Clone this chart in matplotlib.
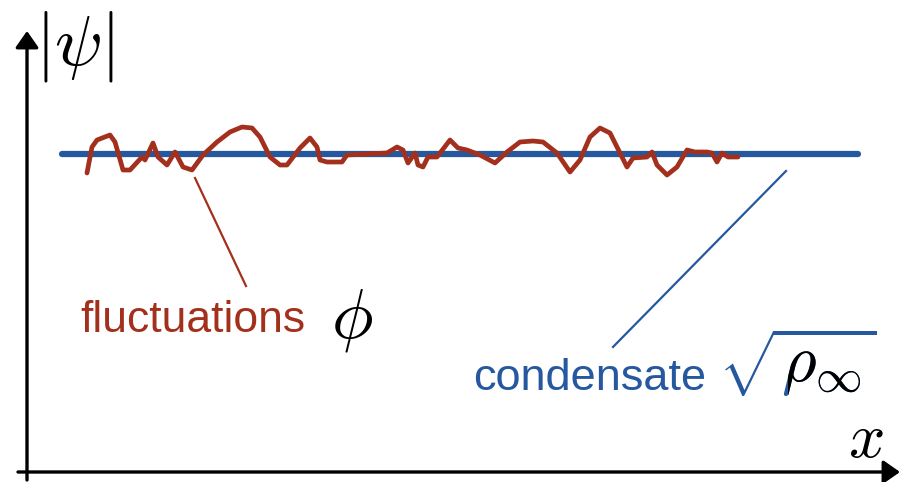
import numpy as np
import matplotlib.pyplot as plt
from matplotlib.transforms import Bbox

plt.rcParams['mathtext.fontset'] = 'cm'
plt.rcParams['font.family'] = ['Liberation Sans', 'DejaVu Sans']

# fluctuating field |psi|(x) (picture units, y grows downward)
fluct_x = [87, 92, 97, 110, 115, 123, 130, 142, 145, 153, 158, 167, 175, 183,
           192, 203, 217, 230, 242, 252, 260, 270, 280, 287, 300, 310, 317,
           320, 327, 342, 347, 387, 397, 403, 408, 415, 418, 423, 428, 437,
           450, 458, 467, 480, 495, 507, 520, 533, 543, 557, 570, 580, 590,
           600, 610, 620, 627, 633, 647, 652, 657, 667, 677, 687, 695, 707,
           712, 717, 722, 728, 738]
fluct_y = [173, 147, 140, 135, 142, 170, 170, 157, 160, 143, 157, 165, 152, 167,
           170, 155, 142, 132, 127, 128, 137, 157, 165, 165, 148, 138, 147,
           160, 162, 162, 155, 153, 147, 150, 163, 153, 165, 167, 157, 157,
           140, 148, 150, 155, 163, 152, 142, 141, 142, 153, 172, 160, 137,
           128, 133, 153, 167, 158, 157, 152, 165, 175, 167, 150, 152, 152,
           153, 162, 153, 157, 157]

# condensate level sqrt(rho_inf)
cond_x = [62, 858]
cond_y = [154, 154]

red = '#a3301c'
blue = '#25589e'

fig = plt.figure(figsize=(9, 4.82), dpi=100)
ax = fig.add_axes([0, 0, 1, 1])
ax.set_xlim(0, 900)
ax.set_ylim(482, 0)
ax.axis('off')

# axes with arrows
arrow = dict(arrowstyle='-|>,head_length=0.4,head_width=0.28', mutation_scale=25,
             color='black', lw=2.4, shrinkA=0, shrinkB=0)
ax.annotate('', xy=(27, 31), xytext=(27, 480), arrowprops=arrow)
ax.annotate('', xy=(900, 472), xytext=(18, 472), arrowprops=arrow)
ax.text(35, 46, r'$|\psi|$', fontsize=51, ha='left', va='center')
ax.text(866, 440, r'$x$', fontsize=46, ha='center', va='center')

# curves
ax.plot(cond_x, cond_y, color=blue, lw=4.5, solid_capstyle='round')
ax.plot(fluct_x, fluct_y, color=red, lw=3.4, solid_joinstyle='round',
        solid_capstyle='round')

# leader lines and labels
ax.plot([195, 246], [178, 286], color=red, lw=1.6)
ax.plot([786, 613], [171, 347], color=blue, lw=1.6)

ax.text(80, 320, 'fluctuations', fontsize=32, color=red, ha='left', va='center')
ax.text(331, 320, r'$\phi$', fontsize=50, color='black', ha='left', va='center')

ax.text(473, 378, 'condensate', fontsize=32.5, color=blue, ha='left', va='center')

# radical in blue, radicand in black: same text twice, black copy clipped
sq = r'$\sqrt{\rho_\infty}$'
t_blue = ax.text(877, 382, sq, fontsize=48, color=blue, ha='right', va='baseline')
t_black = ax.text(877, 382, sq, fontsize=48, color='black', ha='right', va='baseline')
probe = ax.text(0, 0, r'$\rho_\infty$', fontsize=48)

fig.canvas.draw()
r = fig.canvas.get_renderer()
bb = t_blue.get_window_extent(r)
w = probe.get_window_extent(r).width
probe.remove()
t_black.set_clip_box(Bbox([[bb.x1 - w - 9, bb.y0 - 5], [bb.x1 + 5, bb.y1 - 14]]))
t_black.set_clip_on(True)

fig.savefig('out.png', dpi=100)
